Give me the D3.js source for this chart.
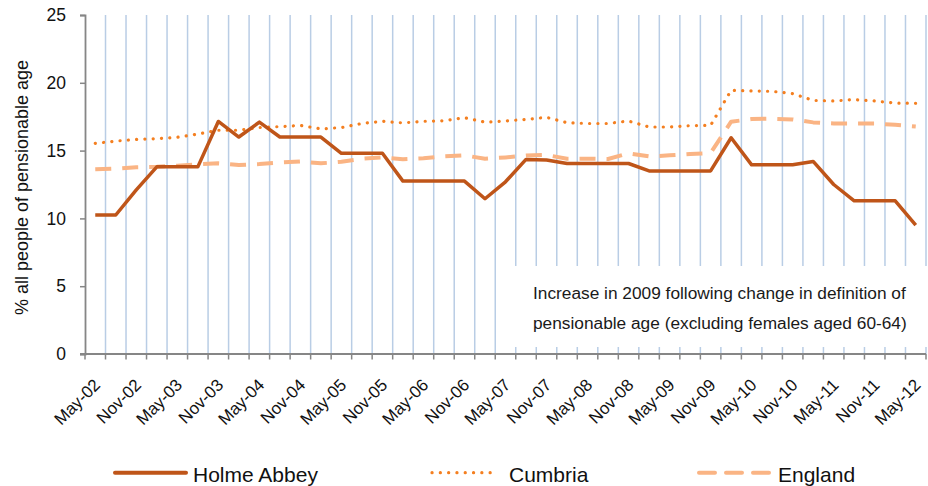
<!DOCTYPE html>
<html>
<head>
<meta charset="utf-8">
<script src="https://cdn.jsdelivr.net/npm/d3@7"></script>
<style>
  html, body { margin: 0; padding: 0; background: #ffffff; }
  svg { display: block; font-family: "Liberation Sans", Arial, sans-serif; }
</style>
</head>
<body>
<svg id="chart" width="928" height="486"></svg>
<script>
const categories = [
  "May-02","Aug-02","Nov-02","Feb-03","May-03","Aug-03","Nov-03","Feb-04","May-04","Aug-04",
  "Nov-04","Feb-05","May-05","Aug-05","Nov-05","Feb-06","May-06","Aug-06","Nov-06","Feb-07",
  "May-07","Aug-07","Nov-07","Feb-08","May-08","Aug-08","Nov-08","Feb-09","May-09","Aug-09",
  "Nov-09","Feb-10","May-10","Aug-10","Nov-10","Feb-11","May-11","Aug-11","Nov-11","Feb-12",
  "May-12"
];
const tickLabels = [
  "May-02","Nov-02","May-03","Nov-03","May-04","Nov-04","May-05","Nov-05","May-06","Nov-06",
  "May-07","Nov-07","May-08","Nov-08","May-09","Nov-09","May-10","Nov-10","May-11","Nov-11","May-12"
];
const yTicks = [0, 5, 10, 15, 20, 25];

const holmeAbbey = [
  10.25,10.25,12.1,13.8,13.8,13.8,17.15,16.0,17.1,16.0,
  16.0,16.0,14.8,14.8,14.8,12.75,12.75,12.75,12.75,11.45,
  12.7,14.35,14.3,14.05,14.05,14.05,14.05,13.5,13.5,13.5,
  13.5,15.95,13.95,13.95,13.95,14.2,12.5,11.3,11.3,11.3,
  9.5
];
const cumbria = [
  15.53,15.7,15.83,15.88,15.98,16.22,16.5,16.5,16.7,16.77,
  16.86,16.6,16.7,17.0,17.16,17.04,17.16,17.2,17.43,17.1,
  17.18,17.3,17.45,17.06,17.0,17.0,17.18,16.74,16.74,16.84,
  16.86,19.45,19.4,19.37,19.2,18.7,18.66,18.76,18.66,18.5,
  18.49
];
const england = [
  13.62,13.67,13.77,13.81,13.89,13.99,14.06,13.94,14.01,14.12,
  14.2,14.06,14.18,14.4,14.5,14.36,14.43,14.58,14.65,14.4,
  14.5,14.63,14.68,14.4,14.4,14.38,14.8,14.57,14.65,14.75,
  14.82,17.13,17.33,17.35,17.3,17.08,17.0,17.0,17.0,16.9,
  16.77
];
const seriesNames = ["Holme Abbey", "Cumbria", "England"];
const yTitle = "% all people of pensionable age";
const noteLines = [
  "Increase in 2009 following change in definition of",
  "pensionable age (excluding females aged 60-64)"
];

const svg = d3.select("#chart");
const pLeft = 85, pRight = 926, pTop = 15, pBottom = 354;

const x = d3.scaleBand().domain(categories).range([pLeft, pRight]).padding(0);
const y = d3.scaleLinear().domain([0, 25]).range([pBottom, pTop]);
const bw = x.bandwidth();
const cx = c => x(c) + bw / 2;

const axisColor = "#868686";
const gridColor = "#b9cde5";

// vertical gridlines at band boundaries
const boundaries = categories.slice(1).map(c => x(c)).concat([pRight]);
svg.append("g").selectAll("line").data(boundaries).join("line")
  .attr("x1", d => d).attr("x2", d => d)
  .attr("y1", y(25)).attr("y2", y(0))
  .attr("stroke", gridColor).attr("stroke-width", 1.5);

// white box behind annotation
svg.append("rect")
  .attr("x", 506).attr("y", 266).attr("width", 928 - 506).attr("height", 347 - 266)
  .attr("fill", "#ffffff");

// annotation
svg.append("g").selectAll("text").data(noteLines).join("text")
  .attr("x", 533).attr("y", (d, i) => 299 + i * 29.5)
  .attr("font-size", 17.3).attr("fill", "#1a1a1a")
  .text(d => d);

// x axis line and ticks
svg.append("line").attr("x1", pLeft - 5).attr("x2", pRight).attr("y1", pBottom).attr("y2", pBottom)
  .attr("stroke", axisColor).attr("stroke-width", 1.8);
svg.append("g").selectAll("line").data([pLeft].concat(boundaries)).join("line")
  .attr("x1", d => d).attr("x2", d => d).attr("y1", pBottom).attr("y2", pBottom + 5.5)
  .attr("stroke", axisColor).attr("stroke-width", 1.5);

// x labels
svg.append("g").selectAll("text").data(tickLabels).join("text")
  .attr("text-anchor", "end")
  .attr("font-size", 17)
  .attr("fill", "#111")
  .attr("transform", d => `translate(${cx(d) + 6},${pBottom + 32}) rotate(-45)`)
  .text(d => d);

// y axis
const yAxis = d3.axisLeft(y).tickValues(yTicks).tickSize(5).tickPadding(14).tickFormat(d3.format("d"));
const gy = svg.append("g").attr("transform", `translate(${pLeft},0)`).call(yAxis);
gy.select(".domain").attr("stroke", axisColor).attr("stroke-width", 1.8);
gy.selectAll(".tick line").attr("stroke", axisColor).attr("stroke-width", 1.5);
gy.selectAll(".tick text").attr("font-size", 17.5).attr("fill", "#111")
  .attr("font-family", "Liberation Sans, Arial, sans-serif");

// y title
svg.append("text")
  .attr("transform", `translate(28,${(pTop + pBottom) / 2 + 3}) rotate(-90)`)
  .attr("text-anchor", "middle").attr("font-size", 18).attr("fill", "#111")
  .text(yTitle);

// series
const line = d3.line().x((d, i) => cx(categories[i])).y(d => y(d));
const styles = [
  { data: holmeAbbey, color: "#bf5519", width: 3.5, dash: null, cap: "butt" },
  { data: cumbria, color: "#f47f20", width: 3.2, dash: "0.1,8.2", cap: "round" },
  { data: england, color: "#fab484", width: 4, dash: "16,11", cap: "butt" }
];
[2, 1, 0].forEach(k => {
  const s = styles[k];
  svg.append("path").datum(s.data)
    .attr("d", line).attr("fill", "none")
    .attr("stroke", s.color).attr("stroke-width", s.width)
    .attr("stroke-linejoin", "round").attr("stroke-linecap", s.cap)
    .attr("stroke-dasharray", s.dash);
});

// legend
const legendItems = [
  { x1: 115, x2: 186, tx: 193 },
  { x1: 432, x2: 494, tx: 509 },
  { x1: 699, x2: 771, tx: 778 }
];
const lg = svg.append("g");
legendItems.forEach((it, k) => {
  const s = styles[k];
  lg.append("line").attr("x1", it.x1).attr("x2", it.x2).attr("y1", 472.7).attr("y2", 472.7)
    .attr("stroke", s.color).attr("stroke-width", k === 0 ? 4 : s.width)
    .attr("stroke-linecap", "round")
    .attr("stroke-dasharray", s.dash);
  lg.append("text").attr("x", it.tx).attr("y", 481.5).attr("font-size", 21).attr("fill", "#111")
    .text(seriesNames[k]);
});
</script>
</body>
</html>
